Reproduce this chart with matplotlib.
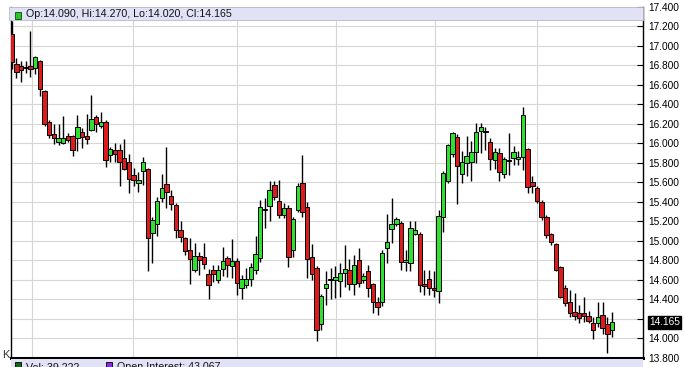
import matplotlib
matplotlib.use("Agg")
import matplotlib.pyplot as plt
from matplotlib.patches import Rectangle
from matplotlib.transforms import blended_transform_factory
import numpy as np

plt.rcParams['font.family'] = ['Liberation Sans', 'DejaVu Sans']

# ---- data (daily OHLC) ----
opens = [17.12, 16.81, 16.79, 16.78, 16.79, 16.77, 16.84, 16.54, 16.22, 16.10,
         16.01, 16.00, 16.08, 16.07, 16.05, 16.12, 16.08, 16.14, 16.27, 16.18,
         16.22, 15.88, 15.93, 15.93, 15.85, 15.81, 15.68, 15.59, 15.72, 15.74,
         15.08, 15.17, 15.44, 15.58, 15.46, 15.37, 15.11, 15.03, 14.91, 14.70,
         14.85, 14.83, 14.66, 14.70, 14.60, 14.71, 14.82, 14.74, 14.79, 14.52,
         14.55, 14.61, 14.70, 14.82, 15.32, 15.36, 15.57, 15.41, 15.27, 15.34,
         14.91, 15.32, 15.59, 15.35, 14.84, 14.72, 14.15, 14.52, 14.60, 14.60,
         14.59, 14.67, 14.70, 14.56, 14.80, 14.60, 14.69, 14.56, 14.37, 14.37,
         14.93, 15.12, 15.17, 15.18, 14.78, 14.77, 15.07, 15.07, 14.56, 14.61,
         14.52, 14.49, 15.25, 15.61, 15.89, 16.06, 15.69, 15.80, 15.81, 15.91,
         16.13, 16.13, 16.01, 15.83, 15.90, 15.69, 15.83, 15.85, 15.84, 15.86,
         15.94, 15.60, 15.54, 15.40, 15.25, 15.07, 14.97, 14.73, 14.52, 14.37,
         14.27, 14.26, 14.26, 14.23, 14.16, 14.16, 14.24, 14.15, 14.09]
highs = [17.25, 16.87, 16.84, 16.84, 17.15, 16.89, 16.85, 16.55, 16.24, 16.20,
         16.20, 16.28, 16.11, 16.09, 16.29, 16.16, 16.30, 16.50, 16.29, 16.32,
         16.24, 15.96, 16.00, 15.99, 16.04, 15.89, 15.75, 15.71, 15.86, 15.75,
         15.25, 15.45, 15.69, 15.96, 15.52, 15.39, 15.20, 15.04, 15.03, 14.98,
         14.89, 14.98, 14.71, 14.75, 14.75, 14.94, 14.85, 15.02, 14.82, 14.65,
         14.72, 14.77, 15.05, 15.42, 15.44, 15.61, 15.61, 15.62, 15.39, 15.37,
         15.25, 15.59, 15.88, 15.40, 14.97, 14.74, 14.46, 14.69, 14.72, 14.74,
         14.77, 14.96, 14.81, 14.86, 14.93, 14.67, 14.75, 14.57, 14.43, 14.91,
         15.28, 15.44, 15.24, 15.20, 14.91, 15.20, 15.20, 15.09, 14.70, 14.70,
         14.69, 15.32, 15.72, 15.99, 16.12, 16.10, 15.92, 16.07, 16.02, 16.21,
         16.21, 16.17, 16.05, 15.95, 15.95, 15.86, 16.11, 15.97, 15.92, 16.37,
         15.95, 15.66, 15.56, 15.42, 15.27, 15.08, 14.98, 14.74, 14.55, 14.50,
         14.47, 14.34, 14.43, 14.28, 14.22, 14.37, 14.37, 14.22, 14.27]
lows = [16.76, 16.67, 16.63, 16.72, 16.68, 16.71, 16.48, 16.18, 16.05, 15.99,
        15.98, 15.99, 16.01, 15.87, 15.92, 15.95, 15.99, 16.13, 16.12, 16.16,
        15.76, 15.81, 15.81, 15.56, 15.73, 15.49, 15.56, 15.50, 15.57, 14.69,
        14.77, 15.05, 15.40, 15.34, 15.32, 15.03, 14.99, 14.86, 14.56, 14.68,
        14.65, 14.71, 14.40, 14.58, 14.57, 14.64, 14.63, 14.62, 14.45, 14.40,
        14.52, 14.54, 14.66, 14.78, 15.13, 15.20, 15.42, 15.23, 15.23, 14.73,
        14.84, 15.30, 15.25, 14.62, 14.60, 13.97, 14.09, 14.34, 14.40, 14.41,
        14.43, 14.53, 14.50, 14.45, 14.53, 14.57, 14.42, 14.26, 14.24, 14.33,
        14.77, 14.98, 15.15, 14.70, 14.69, 14.69, 15.06, 14.48, 14.45, 14.45,
        14.43, 14.36, 15.09, 15.59, 15.86, 15.38, 15.59, 15.66, 15.61, 15.80,
        15.90, 15.93, 15.73, 15.74, 15.61, 15.64, 15.68, 15.78, 15.78, 15.73,
        15.49, 15.49, 15.39, 15.21, 15.03, 14.96, 14.69, 14.41, 14.33, 14.22,
        14.19, 14.16, 14.17, 14.16, 13.99, 14.12, 14.05, 13.85, 14.02]
closes = [16.83, 16.73, 16.75, 16.77, 16.76, 16.88, 16.56, 16.20, 16.09, 16.05,
          16.05, 16.05, 16.03, 15.93, 16.17, 16.06, 16.04, 16.25, 16.20, 16.22,
          15.83, 15.94, 15.89, 15.81, 15.74, 15.63, 15.62, 15.62, 15.81, 15.03,
          15.21, 15.41, 15.54, 15.50, 15.38, 15.11, 15.04, 14.90, 14.81, 14.85,
          14.80, 14.76, 14.55, 14.66, 14.70, 14.79, 14.75, 14.79, 14.57, 14.61,
          14.61, 14.73, 14.87, 15.35, 15.33, 15.52, 15.45, 15.27, 15.34, 14.84,
          15.22, 15.56, 15.30, 14.81, 14.66, 14.09, 14.44, 14.56, 14.61, 14.63,
          14.67, 14.71, 14.56, 14.75, 14.57, 14.64, 14.52, 14.37, 14.32, 14.88,
          14.99, 15.17, 15.22, 14.78, 14.80, 15.13, 15.11, 14.55, 14.54, 14.52,
          14.50, 15.26, 15.70, 15.98, 16.11, 15.77, 15.81, 15.87, 15.91, 16.12,
          16.17, 16.12, 15.84, 15.91, 15.71, 15.84, 15.82, 15.91, 15.86, 16.29,
          15.55, 15.56, 15.41, 15.25, 15.06, 14.99, 14.70, 14.43, 14.36, 14.26,
          14.23, 14.21, 14.23, 14.18, 14.09, 14.22, 14.11, 14.05, 14.165]

price_ticks = [13.8, 14.0, 14.2, 14.4, 14.6, 14.8, 15.0, 15.2, 15.4, 15.6,
               15.8, 16.0, 16.2, 16.4, 16.6, 16.8, 17.0, 17.2, 17.4]
month_marks = [4.3, 25.9, 48.0, 69.1, 90.3, 112.0]
header_text = "Op:14.090, Hi:14.270, Lo:14.020, Cl:14.165"
vol_text = "Vol: 39,222"
oi_text = "Open Interest: 43,067"
last_price = 14.165

# ---- figure ----
W, H = 685, 367
fig = plt.figure(figsize=(W / 100, H / 100), dpi=100)
fig.patch.set_facecolor("white")
ax = fig.add_axes([11 / W, 1 - 358 / H, (643 - 11) / W, (358 - 6.7) / H])

n = len(opens)
x = np.arange(n)
GREEN = "#30e030"
RED = "#dc1c1c"

ax.vlines(x, lows, highs, color="black", linewidth=1.0, zorder=3)
for i in range(n):
    o, c = opens[i], closes[i]
    lo, hi = min(o, c), max(o, c)
    col = GREEN if c >= o else RED
    ax.add_patch(Rectangle((i - 0.47, lo), 0.94, max(hi - lo, 0.008),
                           facecolor=col, edgecolor="black", linewidth=0.7,
                           zorder=4))

ax.set_xlim(-0.15, 134.6)
ax.set_ylim(13.8, 17.4)
ax.set_yticks(price_ticks)
# the 14.200 label sits under the last-price box in the original
ax.set_yticklabels(["" if abs(v - 14.2) < 1e-9 else f"{v:.3f}"
                    for v in price_ticks])
ax.yaxis.tick_right()
ax.tick_params(axis="y", direction="in", length=4, width=0.8, pad=4,
               labelsize=7.3, colors="black")
ax.set_xticks(month_marks)
ax.tick_params(axis="x", length=0, labelbottom=False)
ax.grid(True, color="#d6d6d6", linewidth=0.8, zorder=0)
ax.set_axisbelow(True)

for s in ["left", "right"]:
    ax.spines[s].set_color("black")
    ax.spines[s].set_linewidth(1.0)
ax.spines["top"].set_visible(False)
ax.spines["bottom"].set_color("black")
ax.spines["bottom"].set_linewidth(2.2)

# last price label
tr = blended_transform_factory(ax.transAxes, ax.transData)
ax.text(1.0 + 6 / 632, last_price, f"{last_price:.3f}", transform=tr,
        ha="left", va="center", fontsize=7.3, color="white",
        bbox=dict(boxstyle="square,pad=0.12", fc="black", ec="black"),
        clip_on=False, zorder=6)

# header strip
LAV = "#e2e2f6"
fig.patches.append(Rectangle((9 / W, 1 - 20 / H), (643 - 9) / W, 13 / H,
                             transform=fig.transFigure, facecolor=LAV,
                             edgecolor="#b8b8c8", linewidth=0.6, zorder=5))
fig.patches.append(Rectangle((15 / W, 1 - 18.5 / H), 6 / W, 6 / H,
                             transform=fig.transFigure, facecolor="#22cc22",
                             edgecolor="#114411", linewidth=0.6, zorder=6))
fig.text(26 / W, 1 - 13.8 / H, header_text, fontsize=7.7, va="center",
         ha="left", color="#111111", zorder=7)

# bottom strip (volume / open interest panel header, cut off as in the original)
fig.patches.append(Rectangle((11 / W, 0), (643 - 11) / W, (367 - 359) / H,
                             transform=fig.transFigure, facecolor=LAV,
                             edgecolor="none", zorder=5))
fig.patches.append(Rectangle((15 / W, 0), 6 / W, 5 / H,
                             transform=fig.transFigure, facecolor="#116611",
                             edgecolor="black", linewidth=0.6, zorder=6))
fig.patches.append(Rectangle((106 / W, 0), 6 / W, 5 / H,
                             transform=fig.transFigure, facecolor="#8a2be2",
                             edgecolor="black", linewidth=0.6, zorder=6))
fig.text(26 / W, 1 - 367.5 / H, vol_text, fontsize=7.7, va="center",
         ha="left", color="#111111", zorder=7)
fig.text(117 / W, 1 - 367.5 / H, oi_text, fontsize=7.7, va="center",
         ha="left", color="#111111", zorder=7)
fig.text(2 / W, 1 - 355 / H, "K", fontsize=8, va="center", ha="left",
         color="#333333")

fig.savefig("out.png", dpi=100)
